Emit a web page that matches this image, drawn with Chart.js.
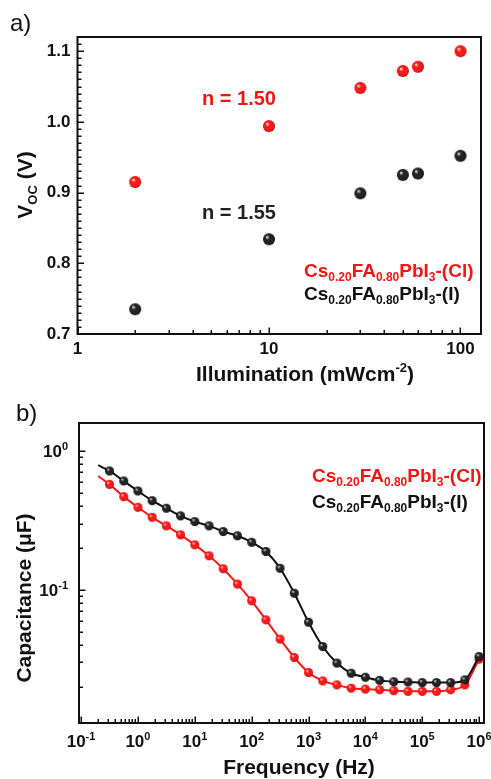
<!DOCTYPE html>
<html>
<head>
<meta charset="utf-8">
<script src="https://cdn.jsdelivr.net/npm/chart.js@4.4.1/dist/chart.umd.min.js"></script>
<style>
  body { margin: 0; background: #fff; }
  canvas { display: block; }
</style>
</head>
<body>
<canvas id="chartA" width="491" height="390"></canvas>
<canvas id="chartB" width="491" height="389"></canvas>
<script>
'use strict';

// a) Voc vs light intensity
var illumination = [2, 10, 30, 50, 60, 100];
var vocCl = [0.915, 0.994, 1.048, 1.072, 1.078, 1.100];
var vocI = [0.735, 0.834, 0.899, 0.925, 0.927, 0.952];
var illumTicks = [1, 10, 100];
var vocTicks = [0.7, 0.8, 0.9, 1.0, 1.1];
var idealityCl = 'n = 1.50';
var idealityI = 'n = 1.55';

// b) capacitance vs frequency (first point only carries the fitted line)
var frequency = [0.2, 0.316, 0.562, 1, 1.78, 3.16, 5.62, 10, 17.8, 31.6, 56.2, 100, 178, 316, 562,
  1000, 1780, 3160, 5620, 10000, 17800, 31600, 56200, 100000, 178000, 316000, 562000, 1000000];
var capI = [0.79, 0.718, 0.608, 0.515, 0.439, 0.387, 0.341, 0.310, 0.289, 0.263, 0.245, 0.220, 0.189, 0.143, 0.0946,
  0.0585, 0.0391, 0.0297, 0.0251, 0.0235, 0.0223, 0.0218, 0.0217, 0.0215, 0.0215, 0.0215, 0.0225, 0.0331];
var capCl = [0.661, 0.575, 0.469, 0.393, 0.333, 0.289, 0.249, 0.211, 0.176, 0.142, 0.110, 0.0834, 0.0608, 0.0442, 0.0326,
  0.0254, 0.0221, 0.0207, 0.0196, 0.0193, 0.0191, 0.0188, 0.0186, 0.0186, 0.0186, 0.0191, 0.0207, 0.0317];
var freqTicks = [0.1, 1, 10, 100, 1000, 10000, 100000, 1000000];
var capTicks = [0.1, 1];

// sample names, [text, 0 normal / 1 sub / 2 sup]
var nameCl = [['Cs', 0], ['0.20', 1], ['FA', 0], ['0.80', 1], ['PbI', 0], ['3', 1], ['-(Cl)', 0]];
var nameI = [['Cs', 0], ['0.20', 1], ['FA', 0], ['0.80', 1], ['PbI', 0], ['3', 1], ['-(I)', 0]];

var FONT = '"Liberation Sans", Arial, sans-serif';
var RED = '#f41414';
var BLACK = '#111111';

function makeBall(r, light, base, dark) {
  var c = document.createElement('canvas');
  var s = Math.ceil(r * 2 + 2);
  c.width = s;
  c.height = s;
  var g = c.getContext('2d');
  var m = s / 2;
  var grad = g.createRadialGradient(m - r * 0.35, m - r * 0.4, r * 0.05, m, m, r);
  grad.addColorStop(0, light);
  grad.addColorStop(0.35, base);
  grad.addColorStop(0.8, base);
  grad.addColorStop(1, dark);
  g.fillStyle = grad;
  g.beginPath();
  g.arc(m, m, r, 0, Math.PI * 2);
  g.fill();
  return c;
}

var redBallA = makeBall(6, '#ffe0e0', '#ff1818', '#a00000');
var blackBallA = makeBall(6, '#e0e0e0', '#222222', '#000000');
var redBallB = makeBall(4.5, '#ffd0d0', '#ff1818', '#b00000');
var blackBallB = makeBall(4.5, '#d8d8d8', '#222222', '#000000');

function drawRich(ctx, parts, x, y, size, color, align, weight) {
  var w = 0;
  var fontFor = function (k) {
    return (weight || 'bold') + ' ' + (k ? Math.round(size * 0.62) : size) + 'px ' + FONT;
  };
  parts.forEach(function (p) {
    ctx.font = fontFor(p[1]);
    w += ctx.measureText(p[0]).width;
  });
  var cx = align === 'center' ? x - w / 2 : (align === 'right' ? x - w : x);
  ctx.fillStyle = color;
  ctx.textAlign = 'left';
  ctx.textBaseline = 'alphabetic';
  parts.forEach(function (p) {
    ctx.font = fontFor(p[1]);
    var dy = p[1] === 1 ? size * 0.22 : (p[1] === 2 ? -size * 0.42 : 0);
    ctx.fillText(p[0], cx, y + dy);
    cx += ctx.measureText(p[0]).width;
  });
}

function range(list, from, to) {
  var out = [];
  for (var e = from; e <= to; e++) {
    list.forEach(function (m) { out.push(m * Math.pow(10, e)); });
  }
  return out;
}

// box round the plot, ticks pointing inward on left and bottom
function framePlugin(xMajor, xMinor, yMajor, yMinor) {
  return {
    id: 'frame',
    beforeDatasetsDraw: function (chart) {
      var ctx = chart.ctx;
      var a = chart.chartArea;
      var sx = chart.scales.x;
      var sy = chart.scales.y;
      ctx.save();
      ctx.strokeStyle = BLACK;
      ctx.lineWidth = 2;
      ctx.strokeRect(a.left, a.top, a.right - a.left, a.bottom - a.top);
      ctx.lineWidth = 1.5;
      ctx.beginPath();
      function xt(v, len) {
        if (v < sx.min || v > sx.max) return;
        var p = Math.round(sx.getPixelForValue(v)) + 0.25;
        ctx.moveTo(p, a.bottom);
        ctx.lineTo(p, a.bottom - len);
      }
      function yt(v, len) {
        if (v < sy.min || v > sy.max) return;
        var p = Math.round(sy.getPixelForValue(v)) + 0.25;
        ctx.moveTo(a.left, p);
        ctx.lineTo(a.left + len, p);
      }
      xMajor.forEach(function (v) { xt(v, 6.5); });
      xMinor.forEach(function (v) { xt(v, 4); });
      yMajor.forEach(function (v) { yt(v, 6.5); });
      yMinor.forEach(function (v) { yt(v, 4); });
      ctx.stroke();
      ctx.restore();
    }
  };
}

var vocMinor = [];
for (var k = 70; k <= 112; k++) {
  if (k % 10 !== 0) vocMinor.push(k / 100);
}

var axisFont = { family: FONT, size: 17, weight: 'bold' };

new Chart(document.getElementById('chartA'), {
  type: 'scatter',
  data: {
    datasets: [{
      label: 'I',
      data: illumination.map(function (x, i) { return { x: x, y: vocI[i] }; }),
      pointStyle: blackBallA,
      pointRadius: 6
    }, {
      label: 'Cl',
      data: illumination.map(function (x, i) { return { x: x, y: vocCl[i] }; }),
      pointStyle: redBallA,
      pointRadius: 6
    }]
  },
  options: {
    responsive: false,
    animation: false,
    devicePixelRatio: 1,
    layout: { padding: { top: 37, right: 10, left: 0, bottom: 0 } },
    plugins: { legend: { display: false }, tooltip: { enabled: false } },
    scales: {
      x: {
        type: 'logarithmic',
        min: 1,
        max: 128,
        grid: { display: false, drawTicks: false },
        border: { display: false },
        afterBuildTicks: function (s) { s.ticks = illumTicks.map(function (v) { return { value: v }; }); },
        afterFit: function (s) { s.height = 56; },
        ticks: {
          font: axisFont, color: BLACK, padding: 5, maxRotation: 0, autoSkip: false,
          callback: function (v) { return String(v); }
        }
      },
      y: {
        min: 0.7,
        max: 1.12,
        grid: { display: false, drawTicks: false },
        border: { display: false },
        afterBuildTicks: function (s) { s.ticks = vocTicks.map(function (v) { return { value: v }; }); },
        afterFit: function (s) { s.width = 77.5; },
        ticks: {
          font: axisFont, color: BLACK, padding: 7,
          callback: function (v) { return v.toFixed(1); }
        }
      }
    }
  },
  plugins: [
    framePlugin(illumTicks, range([2, 3, 4, 5, 6, 7, 8, 9], 0, 1), vocTicks, vocMinor),
    {
      id: 'textA',
      afterDraw: function (chart) {
        var ctx = chart.ctx;
        ctx.save();
        drawRich(ctx, [['a)', 0]], 10, 31, 24, BLACK, 'left', 'normal');
        drawRich(ctx, [[idealityCl, 0]], 202, 105, 20, RED, 'left');
        drawRich(ctx, [[idealityI, 0]], 202, 219, 20, '#222222', 'left');
        drawRich(ctx, nameCl, 304, 277, 19, RED, 'left');
        drawRich(ctx, nameI, 304, 300, 19, BLACK, 'left');
        drawRich(ctx, [['Illumination (mWcm', 0], ['-2', 2], [')', 0]], 305, 381, 21, BLACK, 'center');
        ctx.translate(32, 185);
        ctx.rotate(-Math.PI / 2);
        drawRich(ctx, [['V', 0], ['OC', 1], [' (V)', 0]], 0, 0, 21, BLACK, 'center');
        ctx.restore();
      }
    }
  ]
});

var ballRadius = function (c) { return c.dataIndex === 0 ? 0 : 4.5; };

new Chart(document.getElementById('chartB'), {
  type: 'scatter',
  data: {
    datasets: [{
      label: 'I',
      data: frequency.map(function (x, i) { return { x: x, y: capI[i] }; }),
      showLine: true,
      clip: 8,
      borderColor: BLACK,
      borderWidth: 2,
      cubicInterpolationMode: 'monotone',
      pointStyle: blackBallB,
      pointRadius: ballRadius
    }, {
      label: 'Cl',
      data: frequency.map(function (x, i) { return { x: x, y: capCl[i] }; }),
      showLine: true,
      clip: 8,
      borderColor: '#ff1818',
      borderWidth: 2,
      cubicInterpolationMode: 'monotone',
      pointStyle: redBallB,
      pointRadius: ballRadius
    }]
  },
  options: {
    responsive: false,
    animation: false,
    devicePixelRatio: 1,
    layout: { padding: { top: 33, right: 7, left: 0, bottom: 0 } },
    plugins: { legend: { display: false }, tooltip: { enabled: false } },
    scales: {
      x: {
        type: 'logarithmic',
        min: 0.092,
        max: 1.22e6,
        grid: { display: false, drawTicks: false },
        border: { display: false },
        ticks: { display: false },
        afterBuildTicks: function (s) { s.ticks = freqTicks.map(function (v) { return { value: v }; }); },
        afterFit: function (s) { s.height = 56; }
      },
      y: {
        type: 'logarithmic',
        min: 0.011,
        max: 1.59,
        grid: { display: false, drawTicks: false },
        border: { display: false },
        ticks: { display: false },
        afterBuildTicks: function (s) { s.ticks = capTicks.map(function (v) { return { value: v }; }); },
        afterFit: function (s) { s.width = 79; }
      }
    }
  },
  plugins: [
    framePlugin(freqTicks, range([2, 3, 4, 5, 6, 7, 8, 9], -1, 5), capTicks, range([2, 3, 4, 5, 6, 7, 8, 9], -2, 0)),
    {
      id: 'textB',
      afterDraw: function (chart) {
        var ctx = chart.ctx;
        var sx = chart.scales.x;
        var sy = chart.scales.y;
        ctx.save();
        freqTicks.forEach(function (v) {
          var e = Math.round(Math.log10(v));
          drawRich(ctx, [['10', 0], [String(e), 2]], sx.getPixelForValue(v), 357, 17, BLACK, 'center');
        });
        capTicks.forEach(function (v) {
          var e = Math.round(Math.log10(v));
          drawRich(ctx, [['10', 0], [String(e), 2]], 68, sy.getPixelForValue(v) + 6, 17, BLACK, 'right');
        });
        drawRich(ctx, [['b)', 0]], 16, 31, 24, BLACK, 'left', 'normal');
        drawRich(ctx, nameCl, 312, 92, 19, RED, 'left');
        drawRich(ctx, nameI, 312, 118, 19, BLACK, 'left');
        drawRich(ctx, [['Frequency (Hz)', 0]], 299, 384, 21, BLACK, 'center');
        ctx.translate(31, 208);
        ctx.rotate(-Math.PI / 2);
        drawRich(ctx, [['Capacitance (\u03bcF)', 0]], 0, 0, 21, BLACK, 'center');
        ctx.restore();
      }
    }
  ]
});
</script>
</body>
</html>
